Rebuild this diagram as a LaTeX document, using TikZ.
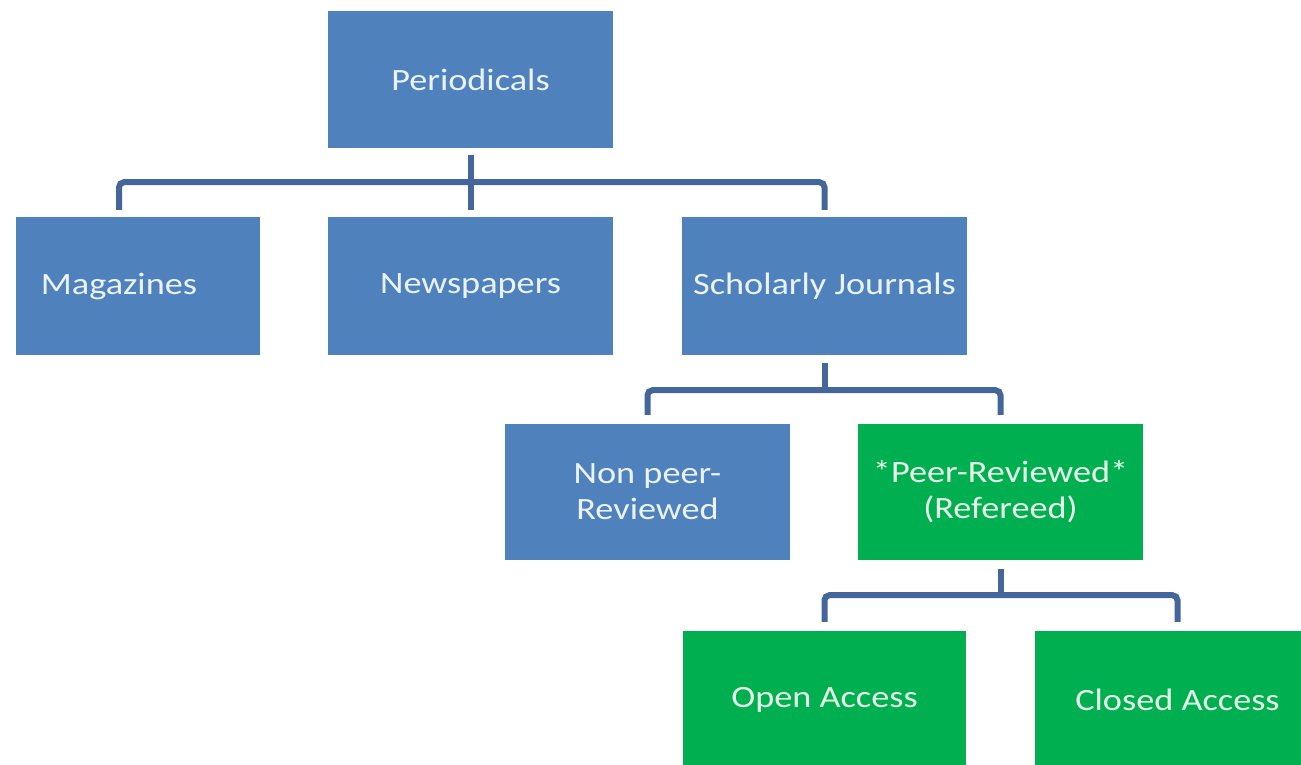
\documentclass[tikz,border=0pt]{standalone}
\usepackage{fontspec}
\newfontfamily\boxfont{Carlito}[FakeStretch=1.17]
\definecolor{boxblue}{HTML}{4F81BD}
\definecolor{boxgreen}{HTML}{00B050}
\definecolor{linkblue}{HTML}{44669A}
\definecolor{txtblue}{HTML}{EAF2FA}
\definecolor{txtgreen}{HTML}{E6F8E8}
\tikzset{
  card/.style={rectangle, inner sep=0pt, minimum width=285pt, minimum height=137pt,
    align=center, font=\boxfont\fontsize{31}{36}\selectfont},
  bluecard/.style={card, fill=boxblue, text=txtblue},
  greencard/.style={card, fill=boxgreen, text=txtgreen},
  conn/.style={draw=linkblue, line width=6pt, rounded corners=5pt}
}
\begin{document}
\begin{tikzpicture}[x=1pt,y=-1pt]
\useasboundingbox (0,0) rectangle (1301,764);
\clip (0,0) rectangle (1301,764);
\fill[white] (0,0) rectangle (1301,764);
% nodes
\node[bluecard] (per) at (470.5,79.5) {Periodicals};
\node[bluecard, minimum width=244pt, minimum height=138pt] (mag) at (138,286) {Magazines\hspace*{38pt}};
\node[bluecard, minimum height=138pt] (news) at (470.5,286) {Newspapers};
\node[bluecard, minimum height=138pt] (sch) at (824.5,286) {Scholarly Journals};
\node[bluecard, minimum height=136pt] (non) at (647.5,492) {Non peer-\\Reviewed};
\node[greencard, minimum height=136pt] (peer) at (1000.5,492) {*Peer-Reviewed*\\(Refereed)};
\node[greencard, minimum width=283pt] (open) at (824.5,699.5) {Open Access};
\node[greencard] (closed) at (1177.5,699.5) {Closed Access};
% connectors level 1
\draw[conn] ([yshift=-7pt]per.south) -- ([yshift=7pt]news.north);
\draw[conn] ([xshift=-19pt,yshift=7pt]mag.north) |- ([yshift=-34pt]per.south) -| ([yshift=7pt]sch.north);
% level 2
\draw[conn] ([yshift=-8pt]sch.south) -- ([yshift=-35pt]sch.south);
\draw[conn] ([yshift=9pt]non.north) |- ([yshift=-35pt]sch.south) -| ([yshift=9pt]peer.north);
% level 3
\draw[conn] ([yshift=-9pt]peer.south) -- ([yshift=-35pt]peer.south);
\draw[conn] ([yshift=9pt]open.north) |- ([yshift=-35pt]peer.south) -| ([yshift=9pt]closed.north);
\end{tikzpicture}
\end{document}
